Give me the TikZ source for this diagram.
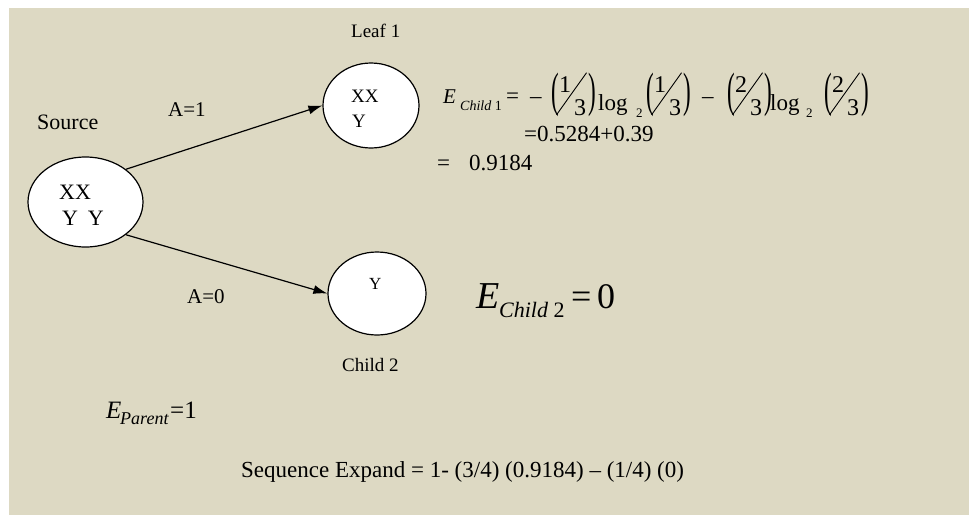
\documentclass[tikz,border=0pt]{standalone}
\usepackage{fontspec}
\setmainfont{Liberation Serif}
\usetikzlibrary{shapes.geometric,arrows.meta}
\definecolor{bgtan}{HTML}{DDD9C3}
\newcommand\putat[2]{\rlap{\hspace*{#1pt}#2}}
\newcommand\fs[1]{\fontsize{#1}{#1}\selectfont}
\newcommand\sctext[2]{\scalebox{#1}{\fontsize{10}{10}\selectfont #2}}
\newcommand\pgroup[2]{%
 \putat{0}{\raisebox{-3.5pt}{\scalebox{1}[2.1]{(}}}%
 \putat{8}{\raisebox{11pt}{\fs{24}#1}}%
 \putat{5}{\raisebox{-12pt}{\rotatebox{54.5}{\rule{51.6pt}{0.9pt}}}}%
 \putat{23}{\raisebox{-12pt}{\fs{24}#2}}%
 \putat{37}{\raisebox{-3.5pt}{\scalebox{1}[2.1]{)}}}}
\tikzset{
  blob/.style={ellipse, draw=black, line width=1.2pt, fill=white, inner sep=0pt},
  lbl/.style={anchor=base west, inner sep=0pt, text=black},
  conn/.style={line width=1.2pt, -{Latex[length=14pt,width=9pt]}}
}
\begin{document}
\begin{tikzpicture}[x=1pt,y=-1pt]
\useasboundingbox (0,0) rectangle (969,515);
\fill[white] (0,0) rectangle (969,515);
\fill[bgtan] (9,8) rectangle (969,515);

% ellipses
\node[blob, minimum width=115pt, minimum height=90pt] (src) at (85.5,202) {};
\node[blob, minimum width=96pt, minimum height=85pt] (leaf) at (371,105.5) {};
\node[blob, minimum width=98pt, minimum height=83pt] (child) at (377,293.5) {};

% contents
\node[lbl] (srcx) at (59,199) {\sctext{2.2}{XX}};
\node[lbl] (srcy) at (62,225) {\sctext{2.2}{Y\hspace*{4.5pt}Y}};
\node[lbl, font=\fs{19}] (leafx) at (351,102) {XX};
\node[lbl, font=\fs{19}] (leafy) at (352,127) {Y};
\node[lbl, font=\fs{17}] (childy) at (369,289) {Y};

% connectors
\draw[conn] (src.39) -- (leaf.west);
\draw[conn] (src.-39) -- (child.west);

% labels
\node[lbl, font=\fs{22}] (srclab) at (37,129) {Source};
\node[lbl, font=\fs{21}] (aone) at (168,116) {A=1};
\node[lbl, font=\fs{21}] (azero) at (187,303) {A=0};
\node[lbl, font=\fs{19}] (leaflab) at (351,37) {Leaf 1};
\node[lbl, font=\fs{19}] (childlab) at (342,371) {Child 2};

% equation child 1
\node[lbl, font=\fs{23}] (eqone) at (443,103) {%
\putat{0}{\fs{21}\itshape E}%
\putat{17}{\raisebox{-7pt}{\fs{14}\itshape Child\upshape\ 1}}%
\putat{63}{=}%
\putat{87}{\textendash}%
\putat{108}{\pgroup{1}{3}}%
\putat{155}{\raisebox{-7pt}{log}}%
\putat{193}{\raisebox{-14pt}{\fs{13}2}}%
\putat{203}{\pgroup{1}{3}}%
\putat{259}{\textendash}%
\putat{284}{\pgroup{2}{3}}%
\putat{327}{\raisebox{-7pt}{log}}%
\putat{363}{\raisebox{-14pt}{\fs{13}2}}%
\putat{381}{\pgroup{2}{3}}%
\hspace*{425pt}};
\node[lbl, font=\fs{21}] (eqtwo) at (524,141) {\sctext{2.3}{=0.5284+0.39}};
\node[lbl, font=\fs{23}] (eqthree) at (437,170) {=\hspace*{19pt}0.9184};

% equation child 2
\node[lbl] (eqchild) at (476,308) {%
\putat{0}{\fs{38}\itshape E}%
\putat{23}{\raisebox{-9pt}{\fs{22}\itshape Child\upshape\ 2}}%
\putat{95}{\fs{36}=}%
\putat{121}{\fs{36}0}%
\hspace*{140pt}};

% parent
\node[lbl] (eqparent) at (106,418) {%
\putat{0}{\fs{25}\itshape E}%
\putat{14}{\raisebox{-6pt}{\fs{18}\itshape Parent}}%
\putat{64}{\fs{25}=1}%
\hspace*{90pt}};

\node[lbl] (seq) at (241,477) {\sctext{2.3}{Sequence Expand = 1- (3/4) (0.9184) \textendash{} (1/4) (0)}};
\end{tikzpicture}
\end{document}
